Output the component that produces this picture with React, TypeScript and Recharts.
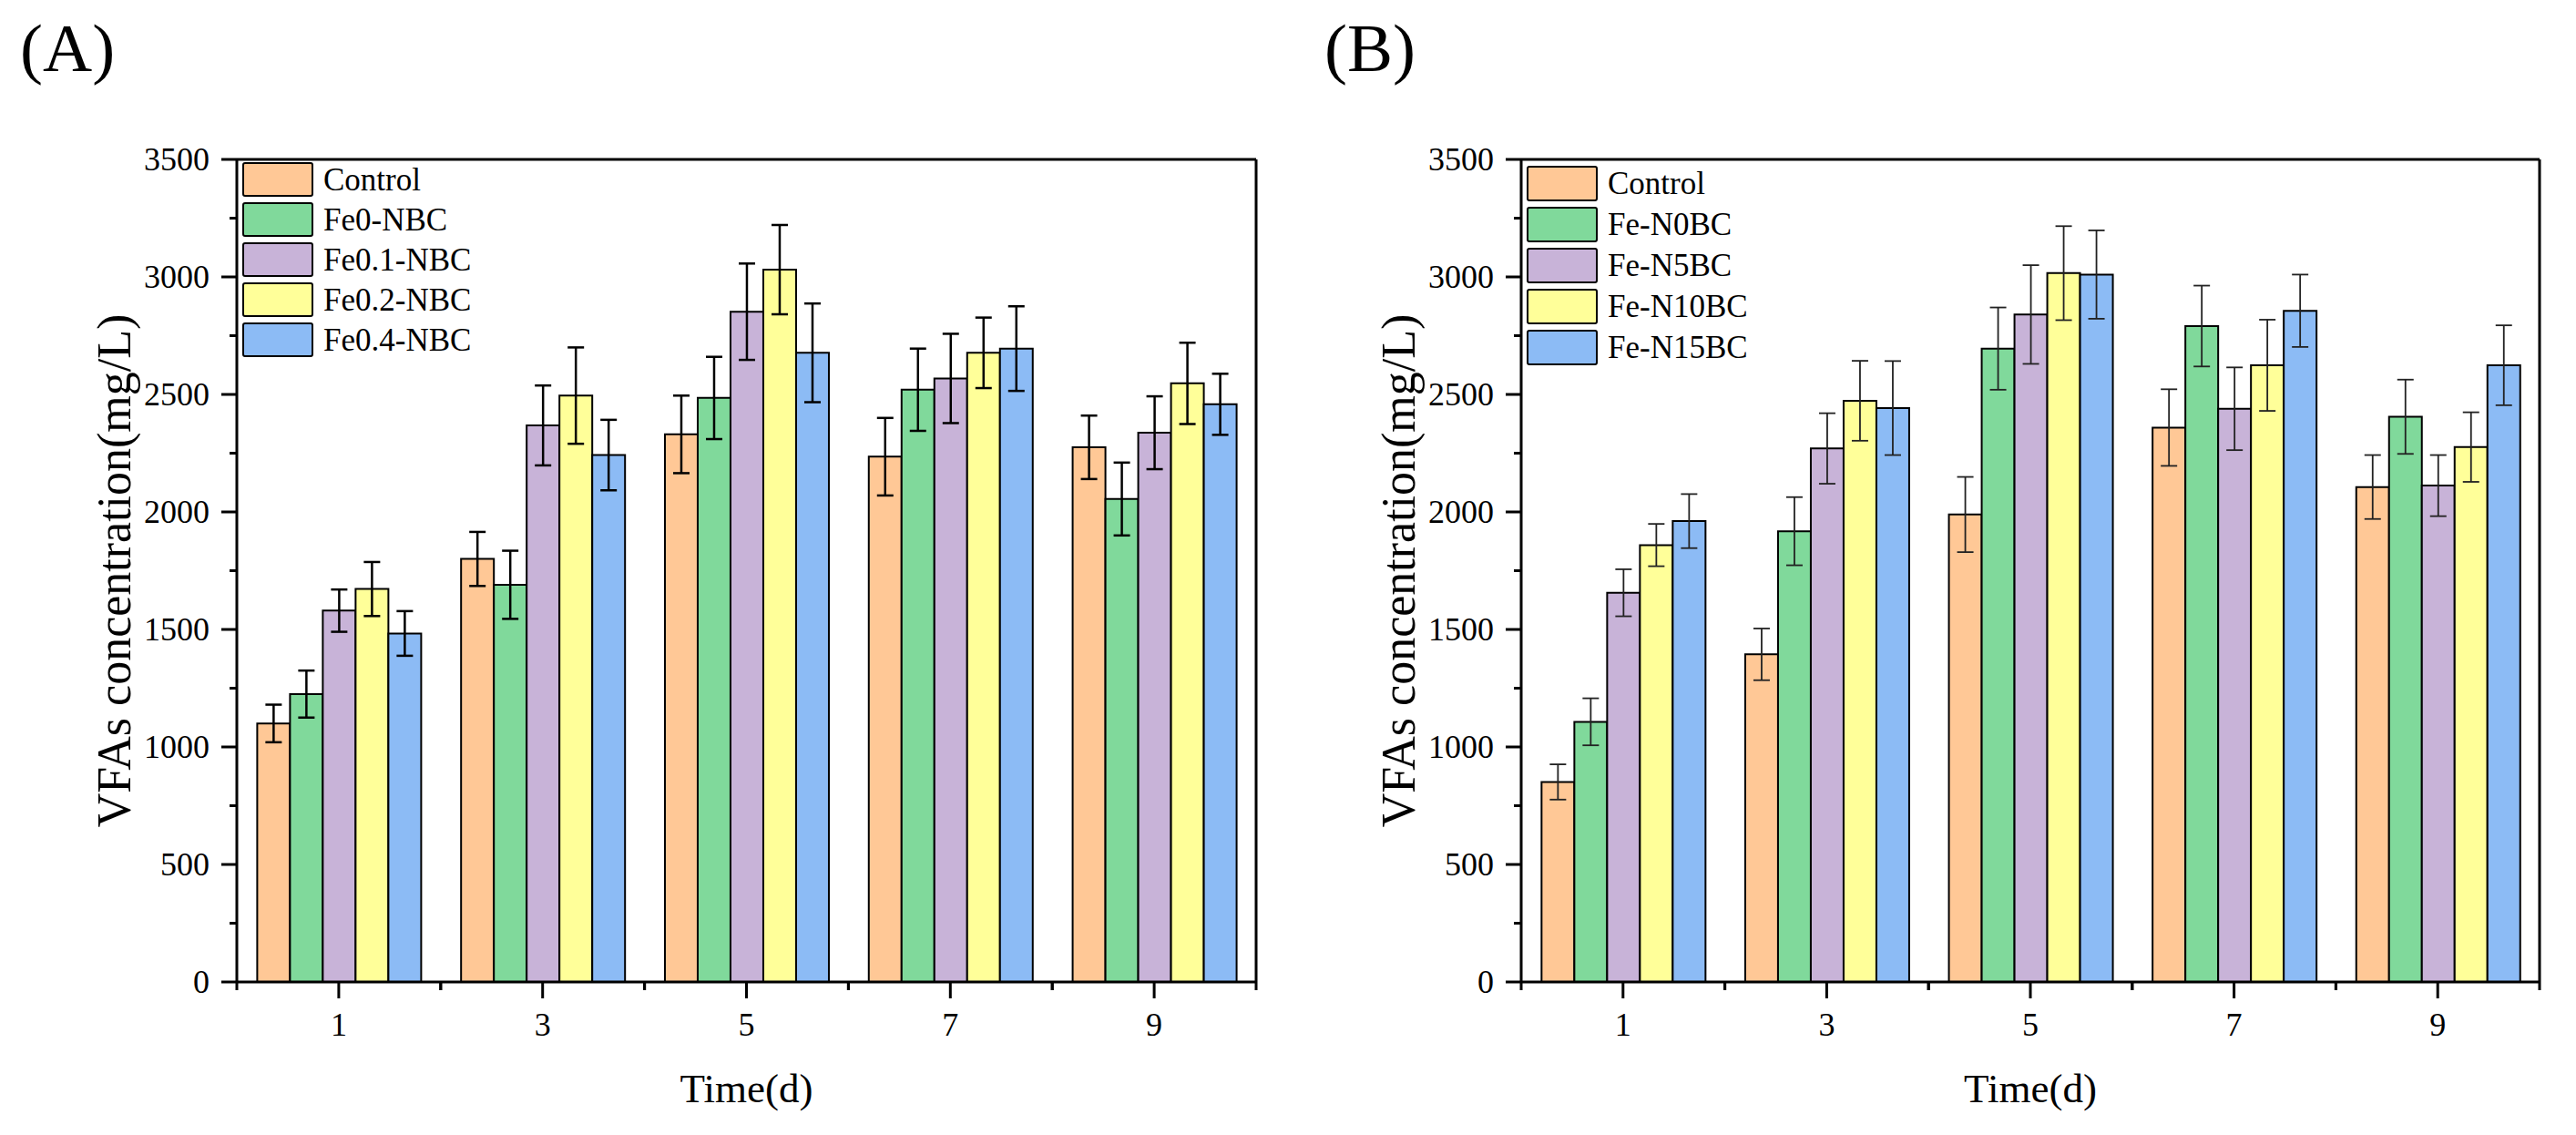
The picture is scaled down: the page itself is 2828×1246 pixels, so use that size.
import React from 'react';
import { BarChart, Bar, XAxis, YAxis, ErrorBar, Legend } from 'recharts';

const FONT = '"Liberation Serif", "Times New Roman", serif';

const DAYS = ['1', '3', '5', '7', '9'];
const Y_TICKS = [0, 250, 500, 750, 1000, 1250, 1500, 1750, 2000, 2250, 2500, 2750, 3000, 3250, 3500];
const COLORS = ['#FFC896', '#80D99B', '#C8B3D8', '#FFFF99', '#8CBBF5'];

// panel A
const LABELS_A = ['Control', 'Fe0-NBC', 'Fe0.1-NBC', 'Fe0.2-NBC', 'Fe0.4-NBC'];
const CONTROL_A = [1100, 1800, 2330, 2235, 2275];
const CONTROL_A_ERR = [80, 115, 165, 165, 135];
const FE0_A = [1225, 1690, 2485, 2520, 2055];
const FE0_A_ERR = [100, 145, 175, 175, 155];
const FE01_A = [1580, 2368, 2852, 2568, 2337];
const FE01_A_ERR = [90, 170, 205, 190, 155];
const FE02_A = [1672, 2495, 3031, 2677, 2547];
const FE02_A_ERR = [115, 205, 190, 150, 173];
const FE04_A = [1483, 2242, 2677, 2695, 2458];
const FE04_A_ERR = [95, 150, 210, 180, 130];

// panel B
const LABELS_B = ['Control', 'Fe-N0BC', 'Fe-N5BC', 'Fe-N10BC', 'Fe-N15BC'];
const CONTROL_B = [851, 1394, 1989, 2359, 2106];
const CONTROL_B_ERR = [75, 110, 160, 163, 136];
const N0_B = [1107, 1918, 2695, 2791, 2405];
const N0_B_ERR = [100, 145, 175, 172, 158];
const N5_B = [1656, 2270, 2840, 2439, 2112];
const N5_B_ERR = [100, 150, 210, 176, 130];
const N10_B = [1859, 2473, 3016, 2624, 2276];
const N10_B_ERR = [90, 170, 200, 194, 148];
const N15_B = [1961, 2442, 3010, 2856, 2624];
const N15_B_ERR = [115, 200, 188, 154, 170];

const W = 1414;
const H = 1246;
const PLOT_TOP = 175;
const PLOT_BOTTOM = 1078;

interface PanelProps {
  tag: string;
  tagX: number;
  labels: string[];
  values: number[][];
  errs: number[][];
  plotLeft: number;
  plotRight: number;
  errStroke: string;
  errWidth: number;
  legendTop: number;
  legendRow: number;
}

const Panel: React.FC<PanelProps> = ({ tag, tagX, labels, values, errs, plotLeft, plotRight, errStroke, errWidth, legendTop, legendRow }) => {
  const data = DAYS.map((day, i) => {
    const row: Record<string, number | string> = { day };
    values.forEach((v, k) => {
      row['s' + k] = v[i];
      row['e' + k] = errs[k][i];
    });
    return row;
  });
  const band = (plotRight - plotLeft) / DAYS.length;
  const midX = (plotLeft + plotRight) / 2;
  const midY = (PLOT_TOP + PLOT_BOTTOM) / 2;

  const XTick = (p: any) => (
    <g>
      <line x1={p.x} x2={p.x} y1={p.y} y2={p.y + 18} stroke="#000" strokeWidth={3} />
      <line x1={p.x - band / 2} x2={p.x - band / 2} y1={p.y} y2={p.y + 9} stroke="#000" strokeWidth={3} />
      <line x1={p.x + band / 2} x2={p.x + band / 2} y1={p.y} y2={p.y + 9} stroke="#000" strokeWidth={3} />
      <text x={p.x} y={p.y + 59} textAnchor="middle" fontFamily={FONT} fontSize={36} fill="#000">{p.payload.value}</text>
    </g>
  );

  const YTick = (p: any) => {
    const major = p.payload.value % 500 === 0;
    return (
      <g>
        <line x1={p.x} x2={p.x - (major ? 17 : 8)} y1={p.y} y2={p.y} stroke="#000" strokeWidth={3} />
        {major && (
          <text x={p.x - 30} y={p.y} dy="0.34em" textAnchor="end" fontFamily={FONT} fontSize={36} fill="#000">{p.payload.value}</text>
        )}
      </g>
    );
  };

  const renderLegend = () => (
    <div style={{ fontFamily: FONT, fontSize: 35, lineHeight: 1, color: '#000' }}>
      {labels.map((l, i) => (
        <div key={l} style={{ display: 'flex', alignItems: 'center', height: legendRow }}>
          <span style={{ width: 78, height: legendRow - 6, background: COLORS[i], border: '2.5px solid #000', borderRadius: 3, boxSizing: 'border-box' }} />
          <span style={{ marginLeft: 11 }}>{l}</span>
        </div>
      ))}
    </div>
  );

  return (
    <div style={{ position: 'relative', width: W, height: H }}>
      <div style={{ position: 'absolute', left: tagX, top: 8, fontFamily: FONT, fontSize: 75, lineHeight: '90px', color: '#000' }}>{tag}</div>
      <BarChart
        width={W}
        height={H}
        data={data}
        margin={{ top: PLOT_TOP - 1, right: W - plotRight - 1, left: 0, bottom: 0 }}
        barCategoryGap="10%"
        barGap={0}
      >
        <XAxis
          dataKey="day"
          height={H - PLOT_BOTTOM}
          tickLine={false}
          tickSize={0}
          tickMargin={0}
          interval={0}
          axisLine={{ stroke: '#000', strokeWidth: 3 }}
          tick={XTick}
          label={() => (
            <text x={midX} y={1210} textAnchor="middle" fontFamily={FONT} fontSize={45} fill="#000">Time(d)</text>
          )}
        />
        <XAxis xAxisId="top" dataKey="day" orientation="top" height={1} tick={false} tickLine={false} axisLine={{ stroke: '#000', strokeWidth: 3 }} />
        <YAxis
          type="number"
          width={plotLeft}
          domain={[0, 3500]}
          ticks={Y_TICKS}
          interval={0}
          tickLine={false}
          tickSize={0}
          tickMargin={0}
          axisLine={{ stroke: '#000', strokeWidth: 3 }}
          tick={YTick}
          label={() => (
            <text
              x={plotLeft - 117}
              y={midY}
              transform={`rotate(-90 ${plotLeft - 117} ${midY})`}
              textAnchor="middle"
              fontFamily={FONT}
              fontSize={52}
              fill="#000"
            >
              VFAs concentration(mg/L)
            </text>
          )}
        />
        <YAxis yAxisId="right" orientation="right" width={1} type="number" domain={[0, 3500]} tick={false} tickLine={false} axisLine={{ stroke: '#000', strokeWidth: 3 }} />
        <Legend
          layout="vertical"
          verticalAlign="middle"
          align="center"
          content={renderLegend}
          wrapperStyle={{ top: legendTop, left: plotLeft + 6, width: 'auto', height: 'auto' }}
        />
        {labels.map((l, k) => (
          <Bar key={l} dataKey={'s' + k} name={l} fill={COLORS[k]} stroke="#000" strokeWidth={2} isAnimationActive={false}>
            <ErrorBar dataKey={'e' + k} width={9} stroke={errStroke} strokeWidth={errWidth} direction="y" isAnimationActive={false} />
          </Bar>
        ))}
      </BarChart>
    </div>
  );
};

export default function App() {
  return (
    <div style={{ position: 'absolute', left: 0, top: 0, width: 2828, height: 1246, background: '#fff', overflow: 'hidden' }}>
      <div style={{ position: 'absolute', left: 0, top: 0 }}>
        <Panel
          tag="(A)"
          tagX={22}
          labels={LABELS_A}
          values={[CONTROL_A, FE0_A, FE01_A, FE02_A, FE04_A]}
          errs={[CONTROL_A_ERR, FE0_A_ERR, FE01_A_ERR, FE02_A_ERR, FE04_A_ERR]}
          plotLeft={260}
          plotRight={1379}
          errStroke="#000"
          errWidth={2.5}
          legendTop={175}
          legendRow={44}
        />
      </div>
      <div style={{ position: 'absolute', left: 1414, top: 0 }}>
        <Panel
          tag="(B)"
          tagX={40}
          labels={LABELS_B}
          values={[CONTROL_B, N0_B, N5_B, N10_B, N15_B]}
          errs={[CONTROL_B_ERR, N0_B_ERR, N5_B_ERR, N10_B_ERR, N15_B_ERR]}
          plotLeft={256}
          plotRight={1374}
          errStroke="#222"
          errWidth={1.8}
          legendTop={179}
          legendRow={45}
        />
      </div>
    </div>
  );
}
